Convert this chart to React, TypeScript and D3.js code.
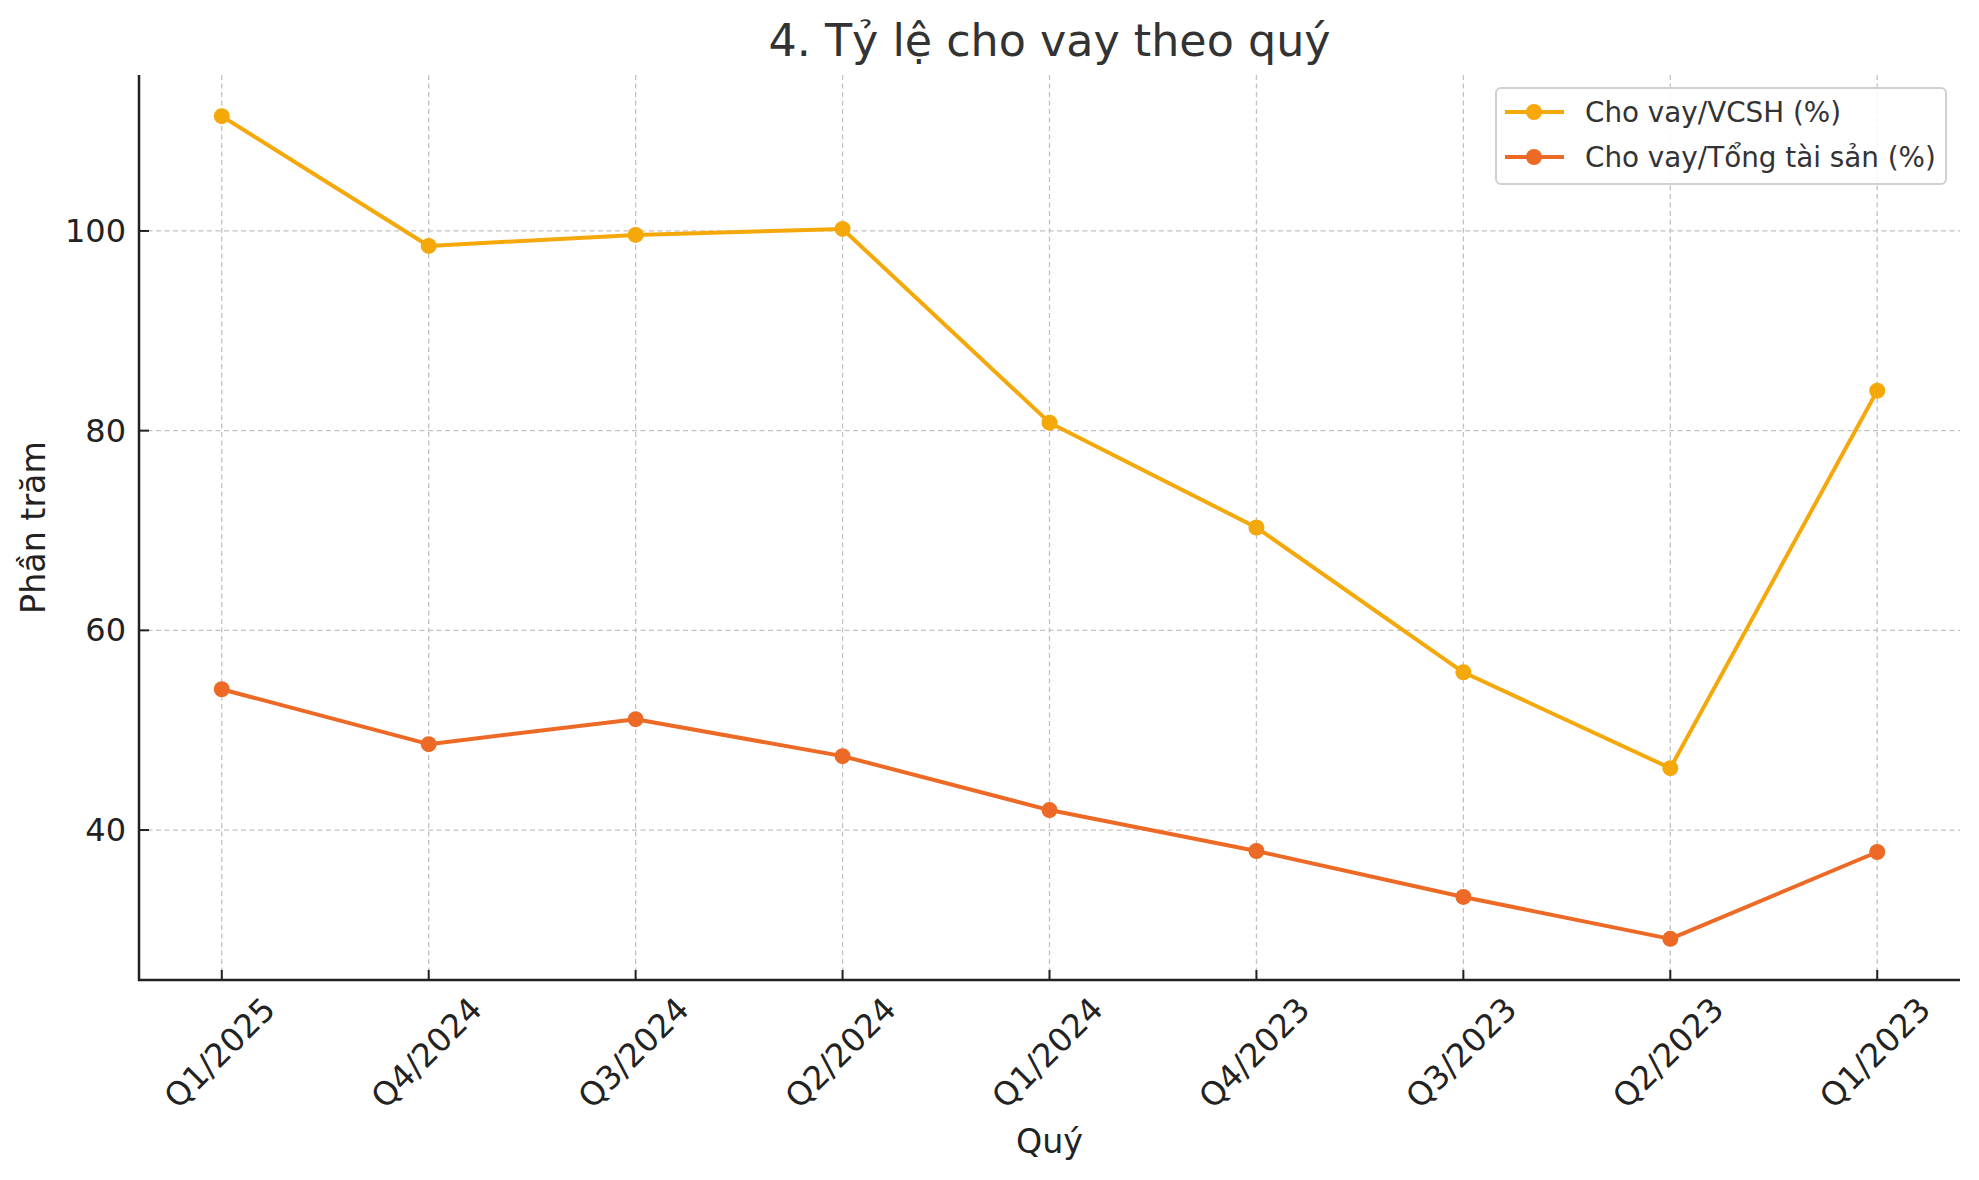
import React, { useEffect, useRef } from 'react';
import * as d3 from 'd3';

const quarters = ["Q1/2025", "Q4/2024", "Q3/2024", "Q2/2024", "Q1/2024", "Q4/2023", "Q3/2023", "Q2/2023", "Q1/2023"];
const loanToEquity = [111.5, 98.5, 99.6, 100.2, 80.8, 70.3, 55.8, 46.2, 84.0];
const loanToAssets = [54.1, 48.6, 51.1, 47.4, 42.0, 37.9, 33.3, 29.1, 37.8];
const yTicks = [40, 60, 80, 100];

const seriesList = [
  { name: "Cho vay/VCSH (%)", values: loanToEquity, color: "#F5A80A" },
  { name: "Cho vay/Tổng tài sản (%)", values: loanToAssets, color: "#EC6A25" },
];

const FONT = "'DejaVu Sans', sans-serif";

const LoanChart: React.FC<{ width?: number; height?: number }> = ({ width = 1979, height = 1180 }) => {
  const svgRef = useRef<SVGSVGElement>(null);

  useEffect(() => {
    if (!svgRef.current) return;
    const svg = d3.select(svgRef.current);
    svg.selectAll("*").remove();

    const left = 139, right = 1960, top = 75, bottom = 980;

    const x = d3.scalePoint<string>().domain(quarters).range([left, right]).padding(0.4);

    const all = [...loanToEquity, ...loanToAssets];
    const [mn, mx] = d3.extent(all) as [number, number];
    const pad = (mx - mn) * 0.05;
    const y = d3.scaleLinear().domain([mn - pad, mx + pad]).range([bottom, top]);

    // grid
    const grid = svg.append("g").attr("stroke", "#c2c2c2").attr("stroke-width", 1.3).attr("stroke-dasharray", "5,3.5");
    grid.selectAll("line.gx").data(quarters).join("line")
      .attr("x1", d => x(d)!).attr("x2", d => x(d)!)
      .attr("y1", top).attr("y2", bottom);
    grid.selectAll("line.gy").data(yTicks).join("line")
      .attr("x1", left).attr("x2", right)
      .attr("y1", d => y(d)).attr("y2", d => y(d));

    // series
    const line = d3.line<number>().x((_, i) => x(quarters[i])!).y(d => y(d));
    seriesList.forEach(s => {
      svg.append("path").datum(s.values)
        .attr("fill", "none").attr("stroke", s.color).attr("stroke-width", 4)
        .attr("stroke-linejoin", "round").attr("d", line);
      svg.append("g").selectAll("circle").data(s.values).join("circle")
        .attr("cx", (_, i) => x(quarters[i])!).attr("cy", d => y(d))
        .attr("r", 8).attr("fill", s.color);
    });

    // spines
    svg.append("line").attr("x1", left).attr("x2", left).attr("y1", top).attr("y2", bottom + 1)
      .attr("stroke", "#222").attr("stroke-width", 2.5);
    svg.append("line").attr("x1", left - 1).attr("x2", right).attr("y1", bottom).attr("y2", bottom)
      .attr("stroke", "#222").attr("stroke-width", 2.5);

    // x ticks
    const xt = svg.append("g");
    xt.selectAll("line").data(quarters).join("line")
      .attr("x1", d => x(d)!).attr("x2", d => x(d)!)
      .attr("y1", bottom).attr("y2", bottom - 10)
      .attr("stroke", "#222").attr("stroke-width", 2);
    xt.selectAll("text").data(quarters).join("text")
      .attr("transform", d => `translate(${x(d)! - 2},${bottom + 73}) rotate(-45)`)
      .attr("text-anchor", "middle").attr("dominant-baseline", "central")
      .attr("font-family", FONT).attr("font-size", 32.5).attr("fill", "#222")
      .text(d => d);

    // y ticks
    const yt = svg.append("g");
    yt.selectAll("line").data(yTicks).join("line")
      .attr("x1", left).attr("x2", left + 10)
      .attr("y1", d => y(d)).attr("y2", d => y(d))
      .attr("stroke", "#222").attr("stroke-width", 2);
    yt.selectAll("text").data(yTicks).join("text")
      .attr("x", left - 13).attr("y", d => y(d))
      .attr("text-anchor", "end").attr("dominant-baseline", "central")
      .attr("font-family", FONT).attr("font-size", 32).attr("fill", "#222")
      .text(d => d);

    // title and labels
    svg.append("text").attr("x", (left + right) / 2).attr("y", 56)
      .attr("text-anchor", "middle").attr("font-family", FONT).attr("font-size", 44.4).attr("fill", "#333")
      .text("4. Tỷ lệ cho vay theo quý");
    svg.append("text").attr("x", (left + right) / 2).attr("y", 1153)
      .attr("text-anchor", "middle").attr("font-family", FONT).attr("font-size", 33.3).attr("fill", "#222")
      .text("Quý");
    svg.append("text").attr("transform", `translate(45,${(top + bottom) / 2}) rotate(-90)`)
      .attr("text-anchor", "middle").attr("font-family", FONT).attr("font-size", 33.3).attr("fill", "#222")
      .text("Phần trăm");

    // legend
    const lg = svg.append("g");
    lg.append("rect").attr("x", 1496).attr("y", 88).attr("width", 450).attr("height", 96)
      .attr("rx", 5).attr("fill", "white").attr("fill-opacity", 0.85)
      .attr("stroke", "#d0d0d0").attr("stroke-width", 2);
    seriesList.forEach((s, i) => {
      const ly = 112 + i * 45;
      lg.append("line").attr("x1", 1505).attr("x2", 1564).attr("y1", ly).attr("y2", ly)
        .attr("stroke", s.color).attr("stroke-width", 4);
      lg.append("circle").attr("cx", 1534).attr("cy", ly).attr("r", 8).attr("fill", s.color);
      lg.append("text").attr("x", 1585).attr("y", ly).attr("dominant-baseline", "central")
        .attr("font-family", FONT).attr("font-size", 27.8).attr("fill", "#333")
        .text(s.name);
    });
  }, [width, height]);

  return <svg ref={svgRef} width={width} height={height} style={{ display: "block" }}></svg>;
};

export default function App() {
  return (
    <div style={{ position: "absolute", left: 0, top: 0, background: "white" }}>
      <LoanChart />
    </div>
  );
}
